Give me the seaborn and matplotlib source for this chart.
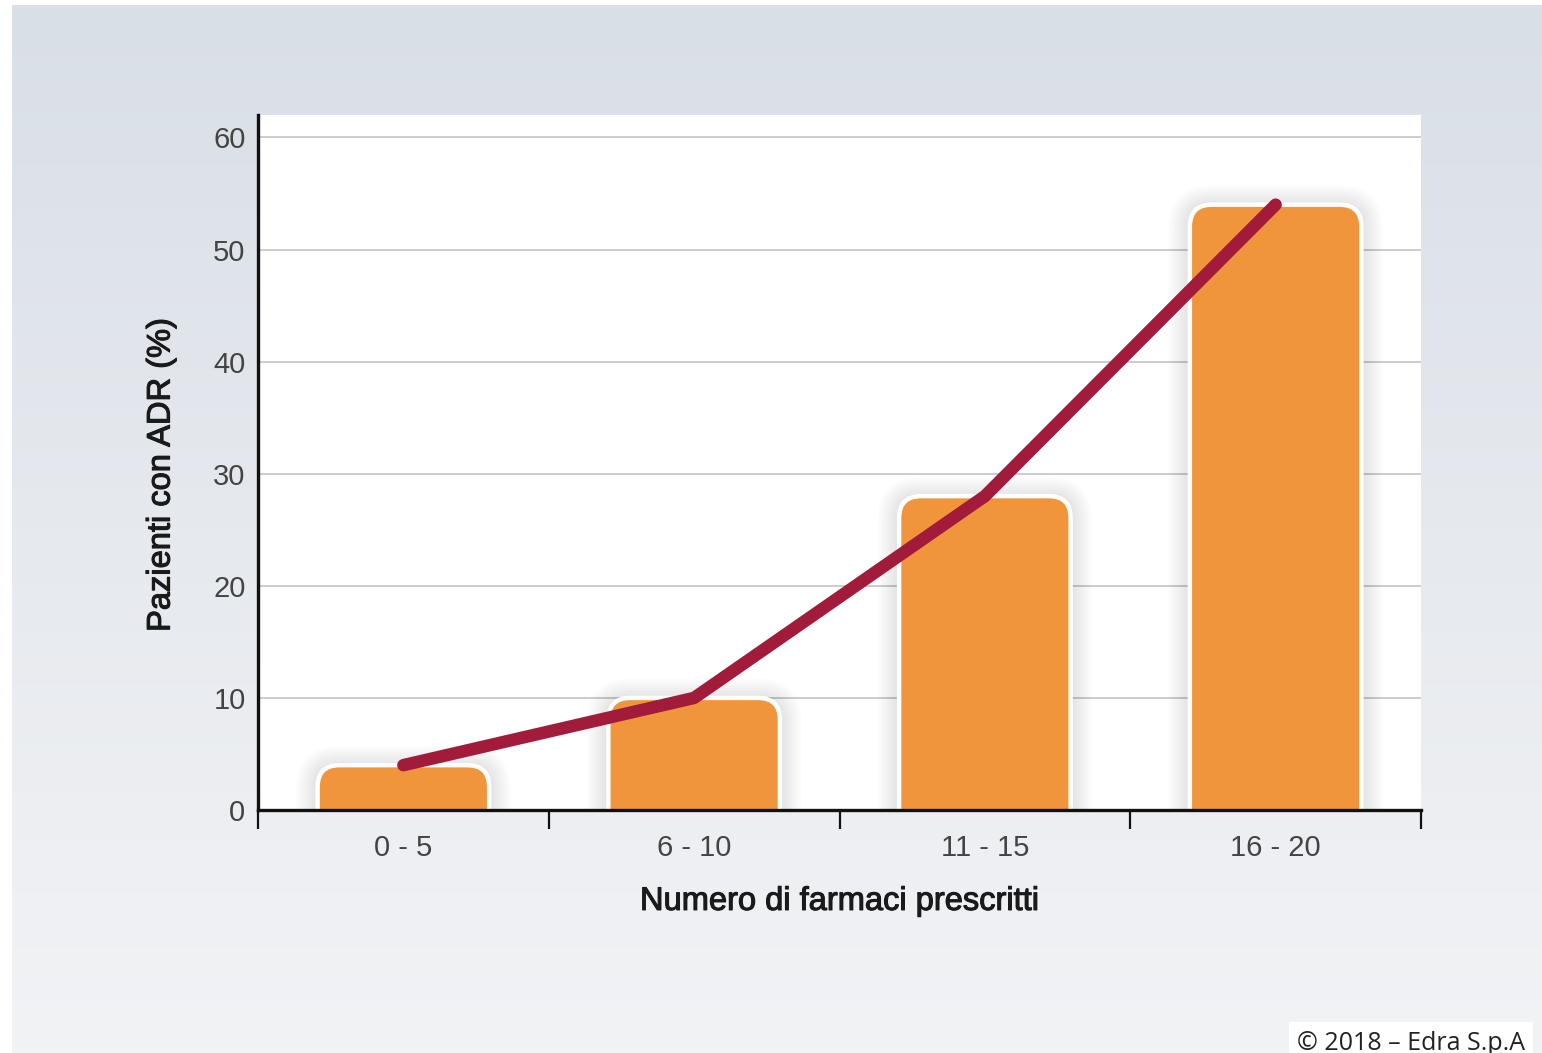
import numpy as np
import pandas as pd
import matplotlib
matplotlib.use("Agg")
import matplotlib.pyplot as plt
from matplotlib.patches import FancyBboxPatch
from matplotlib.colors import LinearSegmentedColormap
import matplotlib.patheffects as pe
import seaborn as sns

# ---- data ----
categories = ["0 - 5", "6 - 10", "11 - 15", "16 - 20"]
values = [4, 10, 28, 54]
y_ticks = [0, 10, 20, 30, 40, 50, 60]
x_label = "Numero di farmaci prescritti"
y_label = "Pazienti con ADR (%)"
credit = "© 2018 – Edra S.p.A"

bar_color = "#f1953c"
line_color = "#a21b3b"

sns.set_theme(style="white")
plt.rcParams["font.family"] = ["Liberation Sans", "DejaVu Sans"]

W, H = 1542, 1053
fig = plt.figure(figsize=(W / 100, H / 100), dpi=100)
fig.patch.set_facecolor("white")

# background gradient
bg = fig.add_axes([12 / W, 0, 1 - 12 / W, 1 - 5 / H], zorder=0)
grad = np.linspace(0, 1, 256).reshape(-1, 1)
cmap = LinearSegmentedColormap.from_list("bg", ["#d9dfe7", "#e6e9ee", "#f2f3f5"])
bg.imshow(grad, aspect="auto", cmap=cmap, extent=[0, 1, 0, 1])
bg.set_axis_off()

# main axes
L, R, T, B = 258, 1421, 115, 810
ax = fig.add_axes([L / W, 1 - B / H, (R - L) / W, (B - T) / H], zorder=2)
ax.set_facecolor("white")

df = pd.DataFrame({"cat": categories, "val": values})
sns.barplot(data=df, x="cat", y="val", color=bar_color, width=0.59, ax=ax,
            saturation=1, zorder=2)
ax.set_xlim(-0.5, 3.5)
ax.set_ylim(0, 62)

# rounded bars
px_x = 4 / (R - L)
px_y = 62 / (B - T)
r_px = 22
rx = r_px * px_x
ry = r_px * px_y
aspect = px_y / px_x
bars = list(ax.patches)
for p in bars:
    x0, w, h = p.get_x(), p.get_width(), p.get_height()
    p.remove()
    # soft shadow
    for k in range(1, 8):
        g = k * 3
        sh = FancyBboxPatch((x0 - g * px_x, -ry - g * px_y), w + 2 * g * px_x,
                            h + ry + 2 * g * px_y - 2 * px_y,
                            boxstyle=f"round,pad=0,rounding_size={rx + g * px_x}",
                            mutation_aspect=aspect, facecolor="#000000",
                            edgecolor="none", alpha=0.016, zorder=1.5)
        ax.add_patch(sh)
    fb = FancyBboxPatch((x0, -ry), w, h + ry,
                        boxstyle=f"round,pad=0,rounding_size={rx}",
                        mutation_aspect=aspect, facecolor=bar_color,
                        edgecolor="white", linewidth=3.2, zorder=2)
    ax.add_patch(fb)

# line
sns.lineplot(x=np.arange(len(values)), y=values, ax=ax, color=line_color,
             linewidth=9, zorder=4)
for ln in ax.lines:
    ln.set_solid_capstyle("round")
    ln.set_solid_joinstyle("round")

# grid
ax.set_yticks(y_ticks)
ax.yaxis.grid(True, color="#c8c8c8", linewidth=1.3, zorder=0)
ax.set_axisbelow(True)
ax.xaxis.grid(False)

# spines
for s in ["top", "right"]:
    ax.spines[s].set_visible(False)
for s in ["left", "bottom"]:
    ax.spines[s].set_color("#111111")
    ax.spines[s].set_linewidth(2.4)
    ax.spines[s].set_zorder(5)

# ticks
ax.set_xticks(range(len(categories)))
ax.set_xticklabels(categories)
ax.set_xticks([-0.5, 0.5, 1.5, 2.5, 3.5], minor=True)
ax.tick_params(axis="x", which="major", length=0, pad=17, labelsize=21,
               labelcolor="#444444")
ax.tick_params(axis="x", which="minor", length=14, width=1.6, color="#111111",
               direction="out", bottom=True)
ax.tick_params(axis="y", length=0, pad=9, labelsize=21, labelcolor="#444444")

stroke = [pe.withStroke(linewidth=0.8, foreground="#1a1a1a")]
ax.set_xlabel(x_label, fontsize=23.5, color="#1a1a1a", labelpad=17.5,
              path_effects=stroke)
ax.set_ylabel(y_label, fontsize=23.5, color="#1a1a1a", path_effects=stroke)
ax.yaxis.set_label_coords(-0.070, 0.482)

# credit
fig.text(1297 / W, 1 - 1043 / H, credit, fontsize=18, color="#222222",
         ha="left", va="center", family=["Open Sans", "DejaVu Sans"],
         bbox=dict(facecolor="white", edgecolor="none", pad=6), zorder=10)

fig.savefig("out.png", dpi=100)
